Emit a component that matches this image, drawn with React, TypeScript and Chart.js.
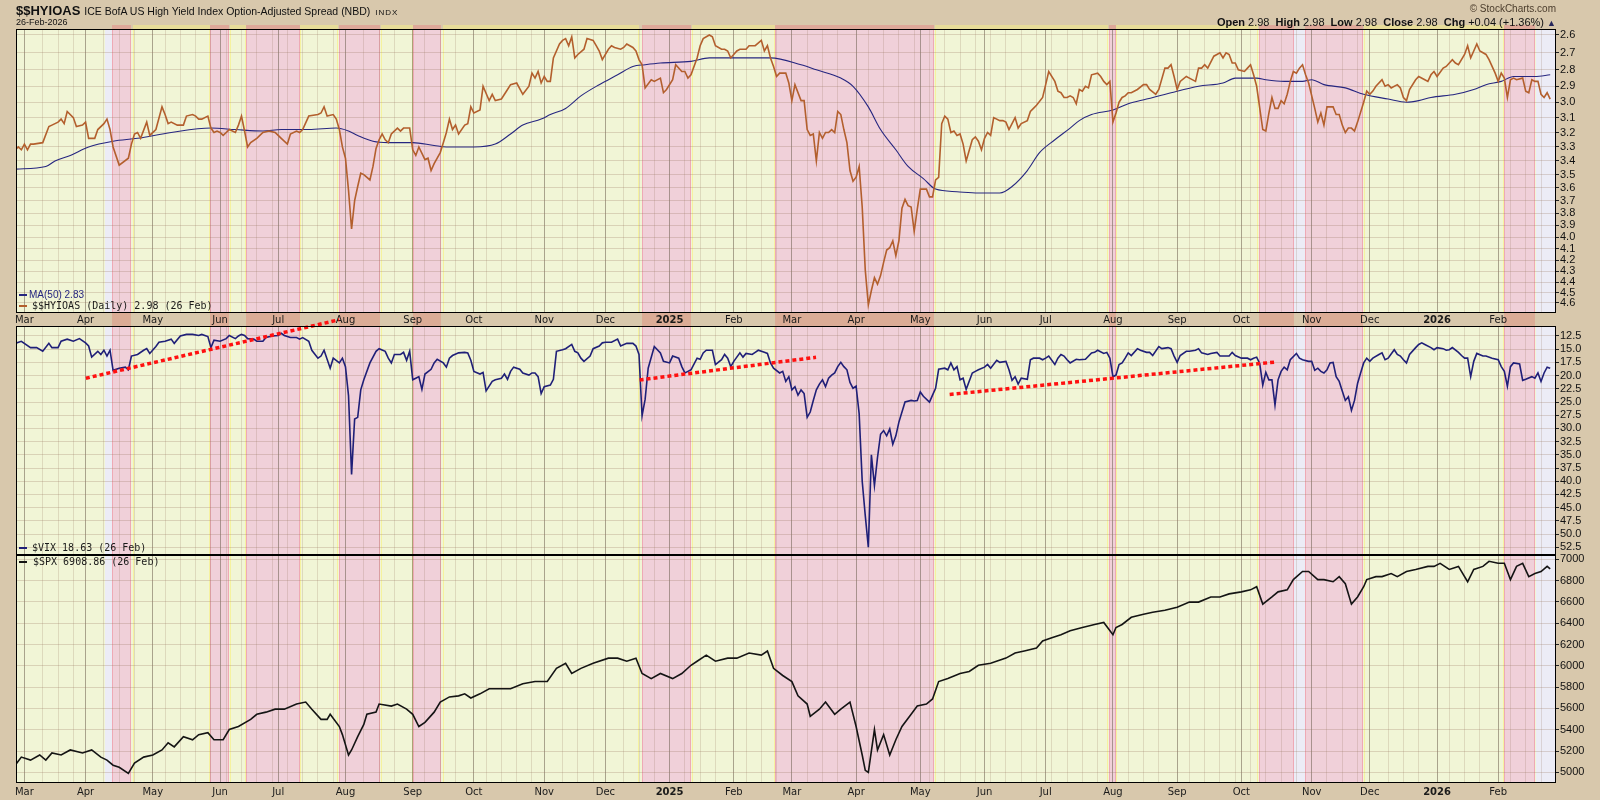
import React, { useEffect, useRef } from 'react';
import { Chart, registerables } from 'chart.js';

Chart.register(...registerables);

// ---- time axis (trading-day index, 0 = 1 Mar 2024) ----
const MONTH_DAYS = [0, 20, 42, 64, 83, 105, 127, 147, 170, 190, 211, 232, 251, 272, 293, 314, 334, 356, 377, 398, 421, 440, 462, 482];
const MONTH_LABELS = ['Mar', 'Apr', 'May', 'Jun', 'Jul', 'Aug', 'Sep', 'Oct', 'Nov', 'Dec', '2025', 'Feb', 'Mar', 'Apr', 'May', 'Jun', 'Jul', 'Aug', 'Sep', 'Oct', 'Nov', 'Dec', '2026', 'Feb'];
const X_MIN = -2.75;
const X_MAX = 500.9;

// ---- y tick labels ----
const HY_TICKS = [2.6, 2.7, 2.8, 2.9, 3.0, 3.1, 3.2, 3.3, 3.4, 3.5, 3.6, 3.7, 3.8, 3.9, 4.0, 4.1, 4.2, 4.3, 4.4, 4.5, 4.6];
const VIX_TICKS = [12.5, 15, 17.5, 20, 22.5, 25, 27.5, 30, 32.5, 35, 37.5, 40, 42.5, 45, 47.5, 50, 52.5];
const SPX_TICKS = [5000, 5200, 5400, 5600, 5800, 6000, 6200, 6400, 6600, 6800, 7000];

// ---- series: [trading day, value] ----
const hyioas: [number, number][] = [
  [-3, 3.32], [-2, 3.30], [-1, 3.32], [0, 3.28], [1, 3.32], [2, 3.28], [3, 3.28], [6, 3.27], [8, 3.16], [9, 3.15], [11, 3.13], [12, 3.11], [13, 3.14], [14, 3.06], [16, 3.10], [17, 3.16], [19, 3.15], [20, 3.13], [21, 3.24], [23, 3.24], [24, 3.18], [26, 3.14], [27, 3.11], [28, 3.18], [29, 3.30], [31, 3.43], [34, 3.38], [35, 3.28], [36, 3.21], [37, 3.20], [38, 3.24], [40, 3.13], [41, 3.22], [43, 3.18], [45, 3.03], [46, 3.08], [47, 3.14], [48, 3.13], [50, 3.15], [52, 3.15], [53, 3.09], [55, 3.08], [56, 3.09], [57, 3.11], [58, 3.11], [60, 3.09], [61, 3.17], [62, 3.20], [63, 3.19], [64, 3.20], [65, 3.22], [66, 3.20], [67, 3.18], [69, 3.20], [70, 3.15], [71, 3.09], [72, 3.19], [73, 3.30], [74, 3.27], [76, 3.24], [78, 3.20], [80, 3.19], [82, 3.20], [83, 3.22], [84, 3.24], [86, 3.28], [87, 3.21], [89, 3.19], [90, 3.20], [91, 3.18], [93, 3.09], [96, 3.08], [97, 3.07], [98, 3.03], [99, 3.09], [101, 3.08], [102, 3.11], [103, 3.18], [104, 3.30], [105, 3.38], [106, 3.62], [107, 3.93], [108, 3.70], [109, 3.59], [110, 3.49], [111, 3.50], [113, 3.54], [114, 3.44], [115, 3.31], [116, 3.25], [117, 3.21], [118, 3.25], [119, 3.27], [120, 3.21], [122, 3.17], [123, 3.19], [124, 3.17], [126, 3.17], [127, 3.32], [128, 3.36], [129, 3.30], [131, 3.39], [132, 3.38], [133, 3.47], [134, 3.42], [135, 3.38], [136, 3.34], [137, 3.27], [138, 3.20], [139, 3.11], [140, 3.18], [141, 3.15], [142, 3.21], [144, 3.15], [145, 3.14], [146, 3.03], [147, 3.07], [149, 3.05], [150, 2.90], [152, 2.99], [153, 2.95], [154, 2.99], [156, 2.98], [158, 2.92], [159, 2.89], [161, 2.88], [163, 2.95], [165, 2.90], [166, 2.82], [167, 2.85], [168, 2.81],
  [169, 2.88], [170, 2.84], [171, 2.87], [172, 2.87], [173, 2.73], [175, 2.65], [176, 2.63], [177, 2.62], [178, 2.66], [179, 2.61], [180, 2.73], [181, 2.71], [183, 2.68], [184, 2.62], [186, 2.63], [187, 2.66], [188, 2.69], [189, 2.74], [191, 2.68], [192, 2.66], [193, 2.67], [195, 2.68], [196, 2.67], [197, 2.65], [199, 2.67], [200, 2.69], [201, 2.74], [202, 2.77], [203, 2.91], [205, 2.86], [206, 2.87], [208, 2.85], [209, 2.94], [210, 2.92], [212, 2.86], [213, 2.77], [215, 2.81], [216, 2.81], [217, 2.85], [218, 2.83], [220, 2.73], [221, 2.66], [222, 2.62], [224, 2.60], [225, 2.61], [226, 2.66], [228, 2.68], [229, 2.68], [230, 2.69], [231, 2.73], [233, 2.69], [234, 2.68], [236, 2.68], [237, 2.66], [239, 2.66], [241, 2.63], [242, 2.69], [243, 2.66], [244, 2.73], [245, 2.78], [246, 2.84], [247, 2.82], [249, 2.82], [250, 2.88], [251, 2.99], [252, 2.89], [254, 2.99], [255, 2.99], [256, 3.18], [257, 3.22], [258, 3.21], [259, 3.40], [260, 3.20], [261, 3.24], [262, 3.20], [263, 3.20], [264, 3.18], [265, 3.20], [266, 3.06], [267, 3.08], [268, 3.18], [269, 3.27], [270, 3.47], [271, 3.55], [272, 3.52], [273, 3.44], [274, 3.75], [275, 4.29], [276, 4.62], [277, 4.48], [278, 4.36], [279, 4.42], [280, 4.34], [281, 4.22], [282, 4.11], [283, 4.09], [284, 4.03], [285, 4.16], [286, 4.03], [287, 3.76], [288, 3.69], [289, 3.74], [290, 3.75], [291, 3.95], [292, 3.77], [293, 3.61], [295, 3.61], [296, 3.67], [297, 3.67], [298, 3.54], [299, 3.52], [300, 3.14], [301, 3.09], [302, 3.11], [303, 3.20], [304, 3.19], [305, 3.22], [306, 3.21], [307, 3.28], [308, 3.40], [310, 3.25], [311, 3.23], [312, 3.26], [313, 3.32], [314, 3.24], [315, 3.20], [316, 3.22], [317, 3.10], [319, 3.12], [320, 3.12], [321, 3.13], [322, 3.18], [324, 3.10], [325, 3.17], [326, 3.14], [328, 3.12], [329, 3.06], [330, 3.04], [331, 3.02], [333, 2.97], [334, 2.89], [335, 2.81], [337, 2.87], [338, 2.93], [339, 2.94], [340, 2.97],
  [341, 2.97], [342, 2.96], [343, 2.97], [344, 3.01], [345, 2.92], [346, 2.93], [347, 2.90], [348, 2.91], [349, 2.83], [351, 2.82], [352, 2.84], [353, 2.87], [354, 2.89], [355, 2.87], [356, 3.13], [357, 3.07], [358, 3.00], [359, 2.97], [360, 2.96], [361, 2.94], [362, 2.94], [364, 2.92], [366, 2.89], [367, 2.89], [368, 2.92], [370, 2.95], [371, 2.92], [373, 2.79], [374, 2.79], [375, 2.77], [376, 2.84], [377, 2.92], [378, 2.87], [380, 2.84], [381, 2.85], [383, 2.87], [384, 2.79], [385, 2.79], [386, 2.77], [387, 2.79], [389, 2.72], [391, 2.70], [392, 2.73], [393, 2.70], [394, 2.71], [395, 2.76], [396, 2.76], [397, 2.80], [399, 2.81], [400, 2.79], [401, 2.77], [402, 2.83], [403, 2.90], [405, 3.18], [406, 3.19], [407, 3.07], [408, 2.97], [409, 3.04], [410, 3.04], [411, 2.99], [412, 3.01], [413, 2.95], [414, 2.87], [415, 2.81], [416, 2.82], [417, 2.79], [418, 2.77], [419, 2.83], [420, 2.88], [422, 3.04], [423, 3.13], [424, 3.07], [425, 3.15], [426, 3.03], [428, 3.03], [429, 3.08], [430, 3.08], [431, 3.15], [432, 3.20], [433, 3.17], [434, 3.17], [435, 3.19], [436, 3.13], [438, 3.00], [439, 2.93], [440, 2.95], [441, 2.93], [442, 2.90], [444, 2.86], [445, 2.90], [446, 2.89], [447, 2.91], [449, 2.89], [450, 2.91], [451, 2.97], [452, 2.99], [453, 2.92], [455, 2.86], [456, 2.84], [458, 2.86], [459, 2.87], [460, 2.83], [461, 2.81], [462, 2.84], [464, 2.79], [465, 2.78], [467, 2.74], [468, 2.76], [469, 2.77], [471, 2.71], [472, 2.66], [473, 2.73], [474, 2.69], [475, 2.65], [476, 2.69], [478, 2.71], [479, 2.74], [481, 2.82], [482, 2.87], [483, 2.82], [484, 2.85], [485, 2.97], [486, 2.86], [487, 2.85], [488, 2.86], [490, 2.85], [491, 2.93], [492, 2.94], [493, 2.86], [494, 2.87], [495, 2.87], [496, 2.95], [497, 2.97], [498, 2.94], [499, 2.98],
];

const hyioasMa50: [number, number][] = [
  [-3, 3.46], [7, 3.44], [10, 3.40], [15, 3.36], [21, 3.30], [29, 3.26], [37, 3.24], [48, 3.20], [61, 3.17], [69, 3.18], [78, 3.19], [84, 3.18], [93, 3.18], [102, 3.17], [106, 3.19], [109, 3.22], [114, 3.26], [119, 3.27], [127, 3.27], [134, 3.29], [138, 3.30], [147, 3.30], [154, 3.28], [159, 3.21], [163, 3.15], [169, 3.11], [172, 3.08], [177, 3.04], [182, 2.96], [188, 2.89], [194, 2.83], [199, 2.78], [203, 2.77], [208, 2.76], [218, 2.75], [224, 2.73], [233, 2.73], [244, 2.73], [254, 2.77], [259, 2.80], [267, 2.85], [271, 2.90], [276, 3.03], [280, 3.18], [285, 3.32], [289, 3.44], [294, 3.53], [298, 3.61], [305, 3.63], [312, 3.64], [319, 3.64], [323, 3.59], [328, 3.47], [332, 3.34], [337, 3.25], [342, 3.17], [345, 3.12], [349, 3.08], [356, 3.05], [361, 3.01], [367, 2.98], [375, 2.94], [384, 2.90], [392, 2.88], [396, 2.85], [400, 2.85], [403, 2.85], [406, 2.86], [412, 2.87], [418, 2.87], [421, 2.86], [425, 2.89], [432, 2.91], [438, 2.95], [446, 2.98], [452, 3.00], [456, 2.99], [460, 2.97], [468, 2.95], [474, 2.92], [478, 2.89], [483, 2.87], [487, 2.84], [494, 2.84], [499, 2.83],
];

const vix: [number, number][] = [
  [-3, 13.9], [-1, 13.5], [2, 14.7], [4, 14.7], [6, 15.4], [8, 13.9], [9, 14.7], [11, 14.7], [12, 13.5], [14, 13.1], [16, 13.5], [18, 13.0], [20, 13.8], [21, 14.4], [22, 16.5], [24, 15.4], [25, 16.0], [26, 15.2], [27, 16.3], [28, 15.2], [29, 19.0], [31, 18.6], [33, 18.4], [34, 18.9], [35, 16.3], [37, 16.0], [39, 15.2], [40, 14.9], [41, 15.8], [43, 14.5], [44, 13.7], [46, 13.5], [48, 13.1], [49, 13.9], [51, 12.5], [53, 12.2], [55, 12.2], [57, 12.4], [58, 12.2], [60, 12.6], [61, 14.7], [62, 13.3], [64, 13.5], [66, 13.0], [67, 12.4], [69, 13.0], [70, 12.5], [71, 12.2], [72, 12.4], [73, 13.0], [75, 13.1], [76, 13.5], [78, 13.5], [79, 12.8], [81, 12.5], [83, 12.4], [84, 12.0], [85, 12.4], [87, 12.8], [89, 12.8], [90, 13.1], [91, 12.8], [93, 13.5], [94, 15.2], [96, 16.7], [97, 16.3], [98, 15.2], [100, 18.6], [101, 16.7], [103, 17.6], [104, 16.7], [105, 18.3], [106, 23.8], [107, 38.7], [108, 28.2], [109, 27.9], [110, 22.7], [111, 20.8], [113, 17.6], [115, 15.4], [116, 14.9], [118, 15.4], [119, 16.7], [120, 17.6], [121, 16.0], [123, 16.0], [124, 15.6], [125, 17.1], [126, 15.4], [127, 20.8], [128, 20.5], [129, 20.2], [130, 22.6], [131, 19.7], [133, 18.8], [134, 17.6], [135, 16.9], [137, 17.6], [138, 18.4], [139, 16.7], [140, 16.2], [142, 15.7], [144, 15.6], [145, 15.7], [146, 17.1], [147, 19.2], [149, 19.7], [150, 19.4], [151, 22.9], [153, 21.1], [154, 20.8], [156, 20.5], [157, 19.7], [158, 20.7], [159, 19.2], [160, 18.4], [162, 18.8], [163, 19.5], [165, 19.9], [166, 19.5], [167, 19.5], [168, 20.2], [169, 23.4], [170, 22.1], [172, 21.8], [173, 20.7], [174, 15.4], [176, 15.1], [177, 14.9], [179, 14.1], [180, 15.4], [181, 15.7], [182, 16.7], [183, 17.3], [185, 16.3], [186, 14.9], [188, 14.4], [189, 13.8], [190, 13.7], [192, 13.7], [194, 13.1], [195, 14.4], [197, 13.9], [199, 13.9], [200, 14.4], [201, 16.0], [202, 27.6], [203, 24.5], [204, 18.6], [206, 14.5], [208, 15.7], [209, 17.3], [211, 17.6], [212, 16.3], [214, 16.7], [215, 18.3], [216, 19.5], [217, 19.2], [218, 18.9], [220, 16.7], [221, 16.9], [222, 15.7], [223, 15.2], [225, 15.2], [226, 17.9], [228, 17.0], [229, 16.0], [230, 16.7], [231, 18.3], [232, 17.3], [234, 15.7], [235, 16.5], [236, 15.8], [238, 16.0], [239, 15.6], [240, 15.2], [242, 15.6], [243, 15.8], [244, 17.6], [245, 18.6], [247, 19.5], [248, 19.2], [249, 21.1], [250, 20.2], [251, 22.7], [252, 22.1], [253, 23.7], [254, 22.7], [255, 23.4], [256, 27.9], [257, 26.9], [258, 24.7], [259, 22.7], [260, 21.6], [261, 20.8], [262, 22.1], [263, 20.5], [264, 19.9], [265, 19.5], [266, 18.3], [267, 17.5], [268, 18.3], [269, 18.9], [270, 21.3], [271, 22.4], [272, 22.0], [273, 27.2], [274, 40.0], [275, 46.5], [276, 52.5], [277, 35.0], [278, 40.8], [279, 35.5], [280, 31.1], [281, 30.4], [282, 31.4], [283, 30.1], [284, 33.0], [285, 31.4], [286, 28.8], [287, 26.9], [288, 25.0], [290, 24.7], [291, 24.8], [292, 24.7], [293, 23.1], [294, 23.9], [296, 25.0], [297, 23.7], [298, 22.4], [299, 18.8], [301, 18.6], [302, 18.9], [303, 17.6], [304, 18.9], [305, 18.3], [306, 20.8], [307, 20.5], [308, 22.6], [310, 19.5], [311, 19.2], [312, 18.9], [314, 18.4], [315, 17.9], [316, 18.6], [318, 17.1], [319, 17.5], [321, 17.3], [322, 18.9], [323, 20.9], [324, 20.2], [325, 21.6], [326, 20.5], [328, 20.7], [329, 17.0], [330, 16.7], [332, 16.7], [333, 17.0], [334, 16.7], [335, 16.3], [337, 17.9], [338, 16.7], [339, 16.0], [340, 16.3], [341, 17.0], [342, 17.6], [344, 16.9], [345, 17.0], [347, 16.9], [349, 15.7], [350, 15.6], [351, 15.2], [353, 15.8], [354, 15.6], [355, 16.7], [356, 20.2], [357, 19.9], [358, 17.9], [359, 17.6], [360, 16.7], [361, 15.7], [362, 16.2], [364, 14.9], [365, 15.2], [367, 15.6], [368, 15.6], [369, 16.2], [371, 14.5], [372, 14.9], [374, 14.7], [375, 14.9], [376, 16.3], [377, 17.5], [378, 16.2], [380, 15.4], [381, 15.4], [383, 15.2], [384, 14.9], [385, 15.7], [387, 16.0], [388, 15.8], [390, 15.6], [391, 16.3], [393, 16.3], [394, 16.3], [395, 15.6], [396, 16.2], [398, 16.7], [400, 16.7], [401, 17.0], [402, 16.7], [403, 16.5], [404, 17.7], [405, 21.8], [406, 19.4], [407, 20.8], [408, 20.8], [409, 25.6], [410, 20.8], [411, 19.2], [412, 18.4], [413, 18.9], [414, 17.0], [416, 15.8], [417, 16.7], [418, 17.0], [420, 17.3], [421, 17.3], [422, 19.0], [423, 18.6], [424, 19.2], [425, 19.5], [426, 18.9], [427, 17.6], [428, 17.5], [429, 20.2], [430, 21.1], [431, 22.9], [432, 24.7], [433, 24.0], [434, 26.6], [435, 24.7], [436, 21.5], [437, 19.5], [438, 17.6], [439, 16.7], [440, 17.3], [441, 16.7], [443, 16.0], [444, 15.7], [445, 17.0], [446, 16.7], [448, 15.1], [449, 16.0], [450, 16.3], [451, 17.0], [452, 17.6], [453, 16.0], [455, 14.7], [456, 14.1], [457, 13.8], [458, 14.1], [460, 14.7], [461, 15.1], [462, 14.7], [464, 14.9], [465, 15.2], [466, 15.1], [467, 14.7], [469, 15.6], [470, 16.2], [471, 16.7], [472, 16.7], [473, 20.2], [474, 17.3], [475, 15.8], [477, 16.3], [478, 16.3], [480, 16.7], [482, 17.0], [483, 18.3], [484, 19.2], [485, 22.0], [486, 18.3], [487, 17.6], [489, 17.8], [490, 20.9], [491, 20.7], [493, 20.2], [494, 20.5], [495, 19.5], [496, 21.1], [497, 19.5], [498, 18.4], [499, 18.63],
];

const spx: [number, number][] = [
  [-3, 5067], [-1, 5143], [2, 5115], [5, 5163], [7, 5115], [9, 5182], [12, 5163], [15, 5210], [19, 5182], [22, 5210], [25, 5143], [27, 5115], [29, 5067], [31, 5048], [34, 4990], [36, 5086], [39, 5143], [42, 5163], [45, 5210], [47, 5277], [49, 5239], [52, 5335], [55, 5306], [57, 5354], [60, 5373], [62, 5306], [65, 5306], [67, 5402], [70, 5430], [74, 5497], [76, 5545], [79, 5565], [82, 5593], [85, 5593], [89, 5641], [92, 5660], [94, 5593], [97, 5497], [99, 5497], [100, 5545], [103, 5430], [104, 5354], [106, 5163], [107, 5210], [109, 5335], [111, 5450], [112, 5545], [115, 5565], [116, 5641], [120, 5622], [122, 5641], [125, 5593], [127, 5545], [129, 5430], [131, 5469], [134, 5565], [136, 5660], [139, 5708], [142, 5718], [144, 5737], [146, 5698], [149, 5737], [152, 5785], [156, 5785], [159, 5785], [163, 5832], [167, 5852], [171, 5852], [174, 5976], [177, 6024], [179, 5928], [182, 5976], [186, 6024], [191, 6072], [194, 6072], [197, 6043], [200, 6072], [202, 5928], [205, 5880], [208, 5928], [212, 5880], [215, 5928], [218, 6005], [220, 6043], [223, 6100], [226, 6043], [230, 6072], [233, 6072], [237, 6120], [241, 6100], [243, 6139], [245, 5976], [248, 5909], [251, 5852], [253, 5718], [256, 5641], [257, 5526], [260, 5593], [262, 5660], [265, 5545], [267, 5593], [270, 5660], [272, 5430], [274, 5163], [275, 5019], [276, 5000], [278, 5402], [279, 5210], [281, 5354], [283, 5163], [285, 5306], [287, 5430], [290, 5545], [292, 5622], [295, 5641], [297, 5689], [299, 5852], [302, 5880], [306, 5928], [309, 5947], [312, 6005], [316, 6024], [321, 6072], [324, 6120], [327, 6139], [331, 6167], [333, 6234], [336, 6263], [339, 6292], [342, 6330], [346, 6359], [350, 6388], [353, 6407], [356, 6292], [357, 6359], [359, 6388], [362, 6455], [366, 6483], [369, 6502], [373, 6522], [377, 6550], [381, 6598], [384, 6598], [388, 6646], [391, 6646], [394, 6675], [398, 6694], [401, 6713], [403, 6742], [405, 6579], [408, 6646], [410, 6694], [413, 6713], [415, 6809], [418, 6885], [420, 6885], [423, 6809], [425, 6809], [428, 6789], [430, 6837], [432, 6770], [434, 6579], [436, 6646], [438, 6742], [439, 6809], [442, 6837], [444, 6837], [447, 6866], [449, 6837], [452, 6885], [455, 6904], [459, 6933], [461, 6933], [463, 6962], [466, 6904], [469, 6933], [472, 6789], [474, 6904], [477, 6933], [479, 6981], [482, 6962], [484, 6962], [486, 6809], [488, 6933], [490, 6962], [492, 6837], [494, 6866], [496, 6885], [498, 6933], [499, 6908.86],
];

// dotted trend lines on the VIX panel: [[startDay, startVix], [endDay, endVix]]
const vixTrendLines: [number, number][][] = [
  [[20.1, 20.5], [102.9, 9.43]],
  [[201.2, 20.82], [258.9, 16.53]],
  [[302.6, 23.57], [409.2, 17.43]],
];

// highlighted periods: [startDay, endDay, kind]
const BANDS: [number, number, string][] = [
  [26.4, 28.7, 'lav'], [28.7, 34.9, 'pink'], [35.4, 60.7, 'yel'], [60.7, 66.9, 'pink'], [67.3, 72.5, 'yel'],
  [72.5, 90.0, 'pink'], [90.2, 102.6, 'yel'], [102.9, 116.3, 'pink'], [116.5, 127.0, 'yel'], [127.1, 136.4, 'pink'],
  [136.8, 200.9, 'yel'], [202.0, 218.1, 'pink'], [218.4, 245.4, 'yel'], [245.4, 297.4, 'pink'], [297.7, 354.5, 'yel'],
  [354.8, 357.1, 'pink'], [357.1, 403.5, 'yel'], [403.9, 415.2, 'pink'], [415.3, 418.9, 'lav'], [418.9, 437.9, 'pink'],
  [438.2, 483.8, 'yel'], [484.0, 494.1, 'pink'], [494.5, 501, 'lav'],
];

// ---- styling ----
const TAN = '#d8c8ac';
const PLOT_BG = '#f1f5d6';
const PINK = '#f0d0d9';
const LAV = '#ececf6';
const H_GRID = 'rgba(150,120,95,0.27)';
const W_GRID = 'rgba(150,120,95,0.22)';
const M_GRID = 'rgba(110,95,80,0.55)';
const BROWN = '#b35f2d';
const NAVY = '#262680';
const VIXC = '#1f1f78';

const WEEK_DAYS: number[] = [];
for (let d = 1; d < 500; d += 5) {
  if (!MONTH_DAYS.some((m) => Math.abs(m - d) < 2)) WEEK_DAYS.push(d);
}
const GRID_DAYS = [...MONTH_DAYS, ...WEEK_DAYS].sort((a, b) => a - b);
const MONTH_SET = new Set(MONTH_DAYS);
const LABEL_AT = new Map<number, string>(MONTH_DAYS.map((d, i) => [d, MONTH_LABELS[i]]));

const pts = (s: [number, number][]) => s.map(([x, y]) => ({ x, y }));

function xAxis(height: number, showLabels: boolean, pad: number) {
  return {
    type: 'linear',
    min: X_MIN,
    max: X_MAX,
    position: 'bottom',
    bounds: 'data',
    afterBuildTicks: (s: any) => {
      s.ticks = GRID_DAYS.map((v) => ({ value: v }));
    },
    afterFit: (s: any) => {
      s.height = height;
      s.paddingLeft = 0;
      s.paddingRight = 0;
    },
    ticks: {
      display: showLabels,
      autoSkip: false,
      maxRotation: 0,
      minRotation: 0,
      padding: pad,
      color: '#1a1a1a',
      callback: (v: any) => LABEL_AT.get(v) ?? '',
      font: (ctx: any) => {
        const lbl = ctx.tick ? LABEL_AT.get(ctx.tick.value) ?? '' : '';
        return { family: 'DejaVu Sans', size: 10, weight: /^\d{4}$/.test(lbl) ? 'bold' : 'normal' };
      },
    },
    grid: {
      drawTicks: false,
      lineWidth: 1,
      color: (ctx: any) => (ctx.tick && MONTH_SET.has(ctx.tick.value) ? M_GRID : W_GRID),
    },
    border: { display: false },
  };
}

function yAxis(type: string, min: number, max: number, ticks: number[], digits: number, reverse: boolean) {
  return {
    type,
    position: 'right',
    reverse,
    min,
    max,
    bounds: 'data',
    afterBuildTicks: (s: any) => {
      s.ticks = ticks.map((v) => ({ value: v }));
    },
    afterFit: (s: any) => {
      s.width = 44;
      s.paddingTop = 0;
      s.paddingBottom = 0;
    },
    ticks: {
      autoSkip: false,
      padding: 1,
      color: '#111',
      font: { family: 'Liberation Sans', size: 11 },
      callback: (v: any) => Number(v).toFixed(digits),
    },
    grid: { color: H_GRID, drawTicks: true, tickLength: 3, tickColor: '#222', lineWidth: 1 },
    border: { display: false },
  };
}

function panelPlugin(kind: string) {
  return {
    id: 'panel' + kind,
    beforeDraw(chart: any) {
      const { ctx, chartArea: a } = chart;
      const xs = chart.scales.x;
      ctx.save();
      ctx.fillStyle = PLOT_BG;
      ctx.fillRect(a.left, a.top, a.right - a.left, a.bottom - a.top);
      for (const [s, e, t] of BANDS) {
        const x0 = Math.max(a.left, Math.round(xs.getPixelForValue(s)));
        const x1 = Math.min(a.right, Math.round(xs.getPixelForValue(e)));
        if (x1 <= x0) continue;
        const w = x1 - x0;
        const h = a.bottom - a.top;
        if (t === 'pink') {
          ctx.fillStyle = PINK;
          ctx.fillRect(x0, a.top, w, h);
          ctx.fillStyle = 'rgba(236,130,145,0.5)';
          ctx.fillRect(x0, a.top, 1, h);
          ctx.fillRect(x1 - 1, a.top, 1, h);
        } else if (t === 'lav') {
          ctx.fillStyle = LAV;
          ctx.fillRect(x0, a.top, w, h);
        } else {
          ctx.fillStyle = 'rgba(245,240,140,0.75)';
          ctx.fillRect(x0, a.top, 1, h);
          ctx.fillRect(x1 - 1, a.top, 1, h);
        }
        if (kind === 'A') {
          if (t === 'pink') {
            ctx.fillStyle = 'rgba(232,120,125,0.4)';
            ctx.fillRect(x0, a.top - 4, w, 4);
            ctx.fillStyle = 'rgba(225,110,100,0.3)';
            ctx.fillRect(x0, a.bottom, w, 13);
          } else if (t === 'yel') {
            ctx.fillStyle = 'rgba(250,245,130,0.45)';
            ctx.fillRect(x0, a.top - 4, w, 4);
          }
        }
      }
      ctx.restore();
    },
    afterDraw(chart: any) {
      const { ctx, chartArea: a } = chart;
      ctx.save();
      ctx.strokeStyle = '#000';
      ctx.lineWidth = 1;
      ctx.strokeRect(a.left + 0.5, a.top + 0.5, a.right - a.left - 1, a.bottom - a.top - 1);
      ctx.restore();
    },
  };
}

function baseOptions(padding: any) {
  return {
    responsive: false,
    animation: false,
    devicePixelRatio: 1,
    events: [],
    layout: { padding },
    plugins: { legend: { display: false }, tooltip: { enabled: false } },
    elements: { point: { radius: 0 }, line: { tension: 0 } },
  };
}

function configA(): any {
  return {
    type: 'line',
    data: {
      datasets: [
        { data: pts(hyioas), borderColor: BROWN, borderWidth: 1.6, pointRadius: 0 },
        { data: pts(hyioasMa50), borderColor: NAVY, borderWidth: 1.1, pointRadius: 0, cubicInterpolationMode: 'monotone' },
      ],
    },
    options: {
      ...baseOptions({ left: 16, top: 29, right: 0, bottom: 4 }),
      scales: { x: xAxis(13, true, 1), y: yAxis('logarithmic', 2.567, 4.70, HY_TICKS, 1, true) },
    },
    plugins: [panelPlugin('A')],
  };
}

function configB(): any {
  const trends = vixTrendLines.map((l) => ({
    data: pts(l),
    borderColor: '#ff1010',
    borderWidth: 3.5,
    borderDash: [4, 3],
    borderCapStyle: 'butt',
    pointRadius: 0,
    clip: false,
  }));
  return {
    type: 'line',
    data: { datasets: [...trends, { data: pts(vix), borderColor: VIXC, borderWidth: 1.6, pointRadius: 0 }] },
    options: {
      ...baseOptions({ left: 16, top: 13, right: 0, bottom: 0 }),
      scales: { x: xAxis(0, false, 0), y: yAxis('linear', 10.61, 53.96, VIX_TICKS, 1, true) },
    },
    plugins: [panelPlugin('B')],
  };
}

function configC(): any {
  return {
    type: 'line',
    data: { datasets: [{ data: pts(spx), borderColor: '#141414', borderWidth: 1.6, pointRadius: 0 }] },
    options: {
      ...baseOptions({ left: 16, top: 10, right: 0, bottom: 2 }),
      scales: { x: xAxis(15, true, 3), y: yAxis('linear', 4900, 7040, SPX_TICKS, 0, false) },
    },
    plugins: [panelPlugin('C')],
  };
}

const abs = (s: any): any => ({ position: 'absolute', whiteSpace: 'nowrap', ...s });

export default function App() {
  const refA = useRef<HTMLCanvasElement>(null);
  const refB = useRef<HTMLCanvasElement>(null);
  const refC = useRef<HTMLCanvasElement>(null);

  useEffect(() => {
    const charts = [
      new Chart(refA.current as HTMLCanvasElement, configA()),
      new Chart(refB.current as HTMLCanvasElement, configB()),
      new Chart(refC.current as HTMLCanvasElement, configC()),
    ];
    return () => charts.forEach((c) => c.destroy());
  }, []);

  const sans = '"Liberation Sans", Arial, sans-serif';
  const mono = '"DejaVu Sans Mono", "Liberation Mono", monospace';

  return (
    <div style={{ position: 'relative', width: 1600, height: 800, background: TAN, overflow: 'hidden', fontFamily: sans, color: '#111' }}>
      <style>{'body{margin:0}'}</style>
      <canvas ref={refA} width={1600} height={330} style={{ position: 'absolute', left: 0, top: 0 }} />
      <canvas ref={refB} width={1600} height={242} style={{ position: 'absolute', left: 0, top: 313 }} />
      <canvas ref={refC} width={1600} height={255} style={{ position: 'absolute', left: 0, top: 545 }} />

      {/* header */}
      <div style={abs({ left: 16, top: 2, lineHeight: '15px' })}>
        <span style={{ font: `bold 13px ${sans}` }}>$$HYIOAS</span>
        <span style={{ font: `10.5px ${sans}`, marginLeft: 4 }}>ICE BofA US High Yield Index Option-Adjusted Spread (NBD)</span>
        <span style={{ font: `8px ${sans}`, marginLeft: 5, letterSpacing: 1 }}>INDX</span>
      </div>
      <div style={abs({ left: 16, top: 17, font: `9px ${sans}`, lineHeight: '11px' })}>26-Feb-2026</div>
      <div style={abs({ right: 44, top: 3, font: `10px ${sans}`, lineHeight: '12px', color: '#4a3c2c' })}>© StockCharts.com</div>
      <div style={abs({ right: 44, top: 16, font: `11px ${sans}`, lineHeight: '13px' })}>
        <b>Open</b> 2.98&nbsp; <b>High</b> 2.98&nbsp; <b>Low</b> 2.98&nbsp; <b>Close</b> 2.98&nbsp; <b>Chg</b> +0.04 (+1.36%) <span style={{ color: '#26265a', fontSize: 9 }}>▲</span>
      </div>

      {/* panel legends */}
      <div style={abs({ left: 19, top: 294, width: 8, height: 2, background: NAVY })} />
      <div style={abs({ left: 29, top: 289, font: `10px ${sans}`, lineHeight: '12px', color: NAVY })}>MA(50) 2.83</div>
      <div style={abs({ left: 19, top: 305, width: 8, height: 2, background: BROWN })} />
      <div style={abs({ left: 32, top: 300, font: `10px ${mono}`, lineHeight: '12px', color: '#1a1a1a' })}>$$HYIOAS (Daily) 2.98 (26 Feb)</div>
      <div style={abs({ left: 19, top: 547, width: 8, height: 2, background: VIXC })} />
      <div style={abs({ left: 32, top: 542, font: `10px ${mono}`, lineHeight: '12px', color: '#1a1a1a' })}>$VIX 18.63 (26 Feb)</div>
      <div style={abs({ left: 19, top: 561, width: 8, height: 2, background: '#141414' })} />
      <div style={abs({ left: 33, top: 556, font: `10px ${mono}`, lineHeight: '12px', color: '#1a1a1a' })}>$SPX 6908.86 (26 Feb)</div>
    </div>
  );
}
